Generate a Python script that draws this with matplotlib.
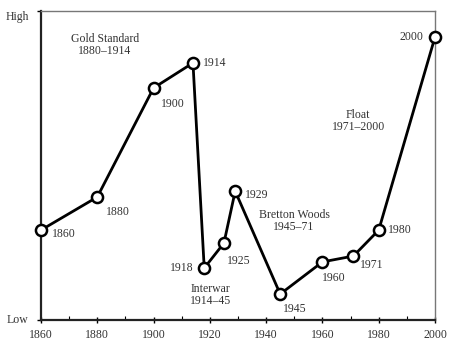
import matplotlib
matplotlib.use("Agg")
import matplotlib.pyplot as plt
from matplotlib.ticker import MultipleLocator

years = [1860, 1880, 1900, 1914, 1918, 1925, 1929, 1945, 1960, 1971, 1980, 2000]
values = [29.1, 39.8, 75.1, 83.2, 16.8, 24.9, 41.7, 8.4, 18.8, 20.7, 29.1, 91.6]
point_labels = ["1860", "1880", "1900", "1914", "1918", "1925", "1929", "1945",
                "1960", "1971", "1980", "2000"]
regimes = ["Gold Standard\n1880\u20131914", "Interwar\n1914\u201345",
           "Bretton Woods\n1945\u201371", "Float\n1971\u20132000"]
x_ticks = [1860, 1880, 1900, 1920, 1940, 1960, 1980, 2000]
y_tick_labels = ["Low", "High"]

plt.rcParams['font.family'] = ['Liberation Serif', 'DejaVu Serif']
txt_color = '#333333'

fig = plt.figure(figsize=(4.6, 3.52), dpi=100)
ax = fig.add_axes([0.0891, 0.0909, 0.8566, 0.8778])

ax.plot(years, values, color='black', lw=2.0, marker='o', ms=8,
        mfc='white', mec='black', mew=1.8, zorder=3, clip_on=False)

# label offsets (pixels) and alignments
offs = [(11, -4, 'left'), (21, -15, 'center'), (19, -16, 'center'), (10, 0, 'left'),
        (-11, 0, 'right'), (15, -18, 'center'), (10, -4, 'left'), (15, -15, 'center'),
        (11, -16, 'center'), (18, -9, 'center'), (9, 0, 'left'), (-12, 0, 'right')]
for x, y, lab, (dx, dy, ha) in zip(years, values, point_labels, offs):
    ax.annotate(lab, (x, y), xytext=(dx, dy), textcoords='offset pixels',
                ha=ha, va='center', fontsize=8.5, color=txt_color)

reg_pos = [(0.162, 0.89), (0.431, 0.081), (0.642, 0.32), (0.805, 0.644)]
for lab, (px, py) in zip(regimes, reg_pos):
    ax.text(px, py, lab, transform=ax.transAxes, ha='center', va='center',
            fontsize=8.5, color=txt_color, linespacing=1.0)

ax.set_xlim(1860, 2000)
ax.set_ylim(0, 100)
ax.set_xticks(x_ticks)
ax.set_xticklabels([str(t) for t in x_ticks])
ax.xaxis.set_minor_locator(MultipleLocator(10))
ax.set_yticks([0, 100])
ax.set_yticklabels(y_tick_labels)

ax.tick_params(axis='x', which='major', direction='inout', length=5, width=1,
               labelsize=8.5, labelcolor=txt_color, pad=4)
ax.tick_params(axis='x', which='minor', direction='in', length=3, width=0.8)
ax.tick_params(axis='y', which='major', direction='out', length=3, width=1,
               labelsize=8.5, labelcolor=txt_color, pad=6)
ylabs = ax.get_yticklabels()
ylabs[0].set_va('center')
ylabs[1].set_va('top')

for side in ['left', 'bottom']:
    ax.spines[side].set_linewidth(1.6)
    ax.spines[side].set_color('#222222')
for side in ['top', 'right']:
    ax.spines[side].set_linewidth(1.0)
    ax.spines[side].set_color('#777777')

fig.savefig('out.png', dpi=100)
